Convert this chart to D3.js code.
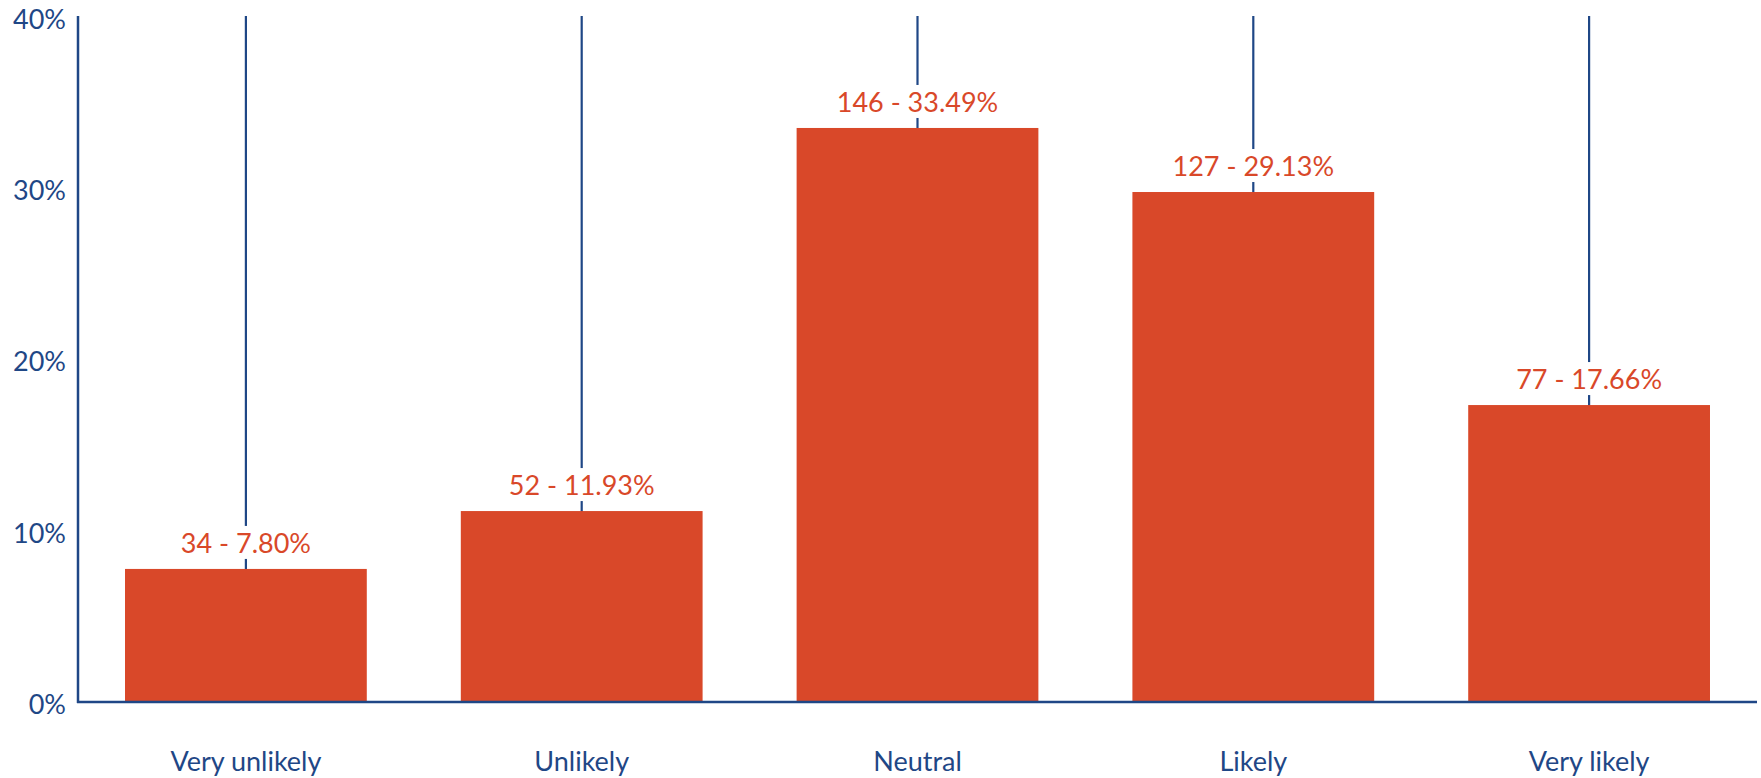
<!DOCTYPE html>
<html>
<head>
<meta charset="utf-8">
<script src="https://cdn.jsdelivr.net/npm/d3@7"></script>
<style>
  html, body { margin: 0; padding: 0; background: #ffffff; }
  svg { display: block; }
  text { font-family: Lato, "Open Sans", sans-serif; }
</style>
</head>
<body>
<svg id="chart" width="1761" height="778"></svg>
<script>
// ---- data ----
const categories = ["Very unlikely", "Unlikely", "Neutral", "Likely", "Very likely"];
const counts = [34, 52, 146, 127, 77];
const percentLabels = ["7.80%", "11.93%", "33.49%", "29.13%", "17.66%"];
// bar heights as drawn in the picture (percent)
const barValues = [7.77, 11.15, 33.52, 29.78, 17.34];
const yTicks = [0, 10, 20, 30, 40];

// ---- layout ----
const blue = "#1f4786";
const red = "#d94829";
const svg = d3.select("#chart");
const x0 = 78, x1 = 1757, yBase = 702, yTop = 17;

const x = d3.scaleBand().domain(categories).range([x0, x1]).paddingInner(0.28).paddingOuter(0.14);
const y = d3.scaleLinear().domain([0, 40]).range([yBase, yTop]);

// vertical guide lines at category centres
svg.append("g").selectAll("line").data(categories).join("line")
  .attr("x1", d => x(d) + x.bandwidth() / 2)
  .attr("x2", d => x(d) + x.bandwidth() / 2)
  .attr("y1", 16)
  .attr("y2", yBase)
  .attr("stroke", blue).attr("stroke-width", 2.2);

// bars
svg.append("g").selectAll("rect").data(categories).join("rect")
  .attr("x", d => x(d))
  .attr("width", x.bandwidth())
  .attr("y", (d, i) => y(barValues[i]))
  .attr("height", (d, i) => yBase - y(barValues[i]))
  .attr("fill", red);

// value labels with white background
const lab = svg.append("g").selectAll("g").data(categories).join("g")
  .attr("transform", (d, i) => `translate(${x(d) + x.bandwidth() / 2},${y(barValues[i]) - 16})`);
lab.append("text")
  .attr("text-anchor", "middle")
  .attr("font-size", 27)
  .attr("fill", red)
  .text((d, i) => `${counts[i]} - ${percentLabels[i]}`)
  .each(function () {
    const bb = this.getBBox();
    d3.select(this.parentNode).insert("rect", "text")
      .attr("x", bb.x - 4).attr("width", bb.width + 8)
      .attr("y", -27).attr("height", 33)
      .attr("fill", "#ffffff");
  });

// y axis
const yAxis = d3.axisLeft(y).tickValues(yTicks).tickFormat(d => d + "%").tickSize(0).tickPadding(12);
const gy = svg.append("g").attr("transform", `translate(${x0},0)`).call(yAxis);
gy.select(".domain").remove();
gy.selectAll("text").attr("font-size", 27).attr("fill", blue)
  .attr("font-family", "Lato, 'Open Sans', sans-serif").attr("dy", "0.68em").attr("y", -7);

svg.append("line").attr("x1", x0).attr("x2", x0).attr("y1", 16).attr("y2", yBase + 1)
  .attr("stroke", blue).attr("stroke-width", 2.5);

// x axis
const xAxis = d3.axisBottom(x).tickSize(0).tickPadding(0);
const gx = svg.append("g").attr("transform", `translate(0,${yBase})`).call(xAxis);
gx.select(".domain").remove();
gx.selectAll("text").attr("font-size", 27).attr("fill", blue)
  .attr("font-family", "Lato, 'Open Sans', sans-serif").attr("dy", null).attr("y", 69);

svg.append("line").attr("x1", x0 - 1).attr("x2", x1).attr("y1", yBase).attr("y2", yBase)
  .attr("stroke", blue).attr("stroke-width", 2.5);
</script>
</body>
</html>
